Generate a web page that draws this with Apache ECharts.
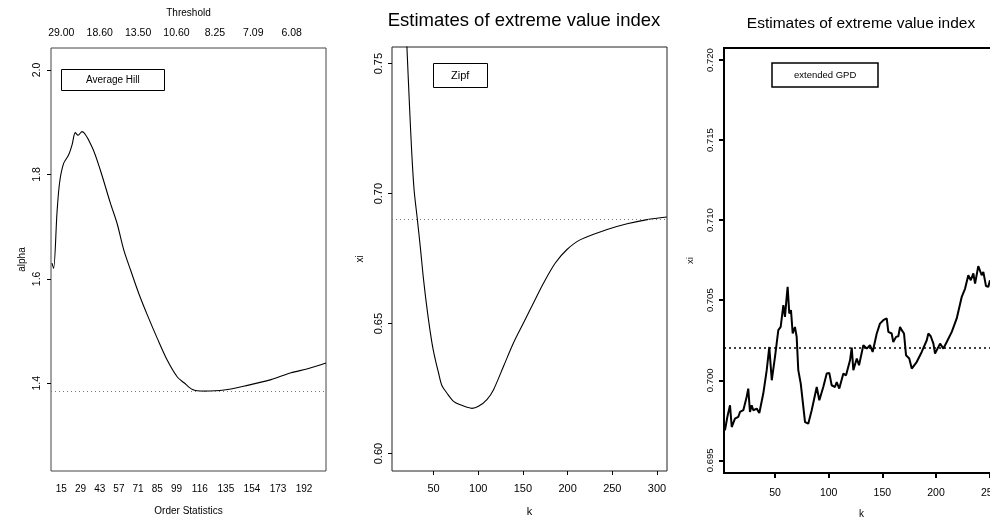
<!DOCTYPE html>
<html>
<head>
<meta charset="utf-8">
<script src="https://cdn.jsdelivr.net/npm/echarts@6/dist/echarts.min.js"></script>
<style>
html,body{margin:0;padding:0;background:#fff;}
#chart{width:990px;height:517px;}
</style>
</head>
<body>
<div id="chart"></div>
<script>
// ---- Panel 1: Average Hill ----
const hillK = [8.2, 9.4, 11.9, 13.8, 16.7, 20.3, 22.8, 25.2, 27.2, 30.1, 37.5, 43.5, 50.8, 55.7, 60.6, 65.5, 71.5, 77.7, 85, 92.3, 99.6, 104.5, 110.6, 119.1, 133.7, 150.8, 167.9, 182.5, 194.7, 208];
const hillAlpha = [1.630, 1.620, 1.728, 1.785, 1.821, 1.837, 1.856, 1.880, 1.875, 1.882, 1.852, 1.808, 1.745, 1.706, 1.655, 1.617, 1.572, 1.531, 1.486, 1.444, 1.412, 1.401, 1.388, 1.385, 1.387, 1.396, 1.407, 1.420, 1.428, 1.439];
const hillRef = 1.384;
const hillOrderTicks = [15, 29, 43, 57, 71, 85, 99, 116, 135, 154, 173, 192];
const hillThreshTickPos = [15, 43, 71, 99, 127, 155, 183];
const hillThreshLabels = ['29.00', '18.60', '13.50', '10.60', '8.25', '7.09', '6.08'];
const hillYTicks = [1.4, 1.6, 1.8, 2.0];

// ---- Panel 2: Zipf ----
const zipfK = [15, 20.2, 23.1, 25.6, 28.2, 31.9, 35.1, 38.8, 43.3, 48.2, 51.9, 55.6, 59.3, 64.9, 72.4, 79.8, 92.9, 100.3, 109.7, 117.1, 128.3, 139.5, 150.7, 161.9, 173.1, 186.2, 199.3, 214.4, 244.2, 266.6, 289, 311];
const zipfXi = [0.800, 0.7564, 0.7336, 0.7157, 0.7015, 0.690, 0.6797, 0.6669, 0.6541, 0.6426, 0.6362, 0.6310, 0.6262, 0.6233, 0.6201, 0.6188, 0.6174, 0.6182, 0.6208, 0.6246, 0.6336, 0.6426, 0.6503, 0.658, 0.6656, 0.6733, 0.6785, 0.6823, 0.6862, 0.6884, 0.690, 0.691];
const zipfRef = 0.690;
const zipfXTicks = [50, 100, 150, 200, 250, 300];
const zipfYTicks = [0.60, 0.65, 0.70, 0.75];

// ---- Panel 3: extended GPD ----
const gpdK = [3.4, 5.6, 8.1, 9.7, 12.7, 15.8, 17.4, 20.5, 23.6, 25.1, 26.7, 28.3, 29.8, 33, 35.4, 39.1, 42.3, 44.7, 47, 50, 53.1, 55.3, 57.8, 59.3, 60.9, 61.8, 63.3, 64.9, 66.5, 68.6, 70.2, 71.7, 74, 78, 81, 84.2, 88.9, 91.3, 95, 98.2, 100.6, 102.8, 105.9, 107.5, 109.9, 113.7, 116.2, 119.9, 121.5, 123, 126.2, 128.3, 132.3, 135.5, 138.5, 141, 144.8, 147.8, 150.9, 154.1, 155.6, 158.7, 160.2, 162.8, 164.9, 166.5, 168.1, 170.2, 172.1, 175.1, 177.4, 182, 186.7, 191.4, 192.9, 195.1, 197.6, 199.1, 203.8, 206.9, 210, 214.7, 219.3, 224, 227.1, 230.1, 232.4, 234.8, 236.4, 239.4, 242.6, 244.1, 246.6, 248.7, 250.3];
const gpdXi = [0.69688, 0.69771, 0.69844, 0.69708, 0.69761, 0.69771, 0.69802, 0.69813, 0.69896, 0.69948, 0.69802, 0.69844, 0.69813, 0.69823, 0.69796, 0.69917, 0.70063, 0.70208, 0.70000, 0.70146, 0.70313, 0.70333, 0.70469, 0.70396, 0.70521, 0.70583, 0.70417, 0.70438, 0.70292, 0.70333, 0.70271, 0.70063, 0.69979, 0.69739, 0.69729, 0.69813, 0.69958, 0.69875, 0.69958, 0.70042, 0.70046, 0.69969, 0.69958, 0.69989, 0.69948, 0.70042, 0.70031, 0.70125, 0.70204, 0.70063, 0.70136, 0.70094, 0.70219, 0.70198, 0.70219, 0.70177, 0.70292, 0.70354, 0.70375, 0.70386, 0.70302, 0.70292, 0.70239, 0.70271, 0.70275, 0.70333, 0.70313, 0.70292, 0.70156, 0.70136, 0.70073, 0.70114, 0.70177, 0.70250, 0.70292, 0.70275, 0.70229, 0.70167, 0.70229, 0.70198, 0.70239, 0.70302, 0.70386, 0.70521, 0.70573, 0.70656, 0.70625, 0.70667, 0.70604, 0.70713, 0.70656, 0.70677, 0.70588, 0.70583, 0.70625];
const gpdRef = 0.70204;
const gpdXTicks = [50, 100, 150, 200, 250];
const gpdYTicks = [0.695, 0.700, 0.705, 0.710, 0.715, 0.720];

const titleText = 'Estimates of extreme value index';
const FONT = 'Liberation Sans, Arial, sans-serif';

function zip(a, b) { return a.map((v, i) => [v, b[i]]); }

const chart = echarts.init(document.getElementById('chart'), null, {renderer: 'canvas'});

const txt = (size, extra) => Object.assign({color: '#000', fontSize: size, fontFamily: FONT, fontWeight: 'normal'}, extra || {});

const refLine = (value, color, dash, width) => ({
  silent: true, symbol: 'none', precision: 6, label: {show: false},
  lineStyle: {color: color, type: dash, width: width}, data: [{yAxis: value}]
});

const option = {
  animation: false,
  backgroundColor: '#fff',
  title: [
    {text: titleText, left: 524, top: 11, textAlign: 'center', padding: 0, textStyle: txt(18.5)},
    {text: titleText, left: 861, top: 16, textAlign: 'center', padding: 0, textStyle: txt(15.5)},
    {text: 'Average Hill', left: 61, top: 69, padding: [6, 25, 6, 25], borderColor: '#000', borderWidth: 1, textStyle: txt(10)},
    {text: 'Zipf', left: 433, top: 63, padding: [7, 18, 7, 18], borderColor: '#000', borderWidth: 1, textStyle: txt(11)},
    {text: 'extended GPD', left: 772, top: 63, padding: [7, 22, 7, 22], borderColor: '#000', borderWidth: 1.5, textStyle: txt(9.5)}
  ],
  grid: [
    {left: 51, top: 48, width: 275, height: 423, show: true, borderColor: '#444', borderWidth: 1, containLabel: false, outerBoundsMode: 'none'},
    {left: 392, top: 47, width: 275, height: 424, show: true, borderColor: '#222', borderWidth: 1, containLabel: false, outerBoundsMode: 'none'},
    {left: 724, top: 48, width: 275, height: 425, show: true, borderColor: '#000', borderWidth: 2, containLabel: false, outerBoundsMode: 'none'}
  ],
  xAxis: [
    {gridIndex: 0, type: 'value', min: 7.5, max: 208, position: 'bottom',
     name: 'Order Statistics', nameLocation: 'middle', nameGap: 35, nameTextStyle: txt(10),
     axisLine: {show: false}, splitLine: {show: false},
     axisTick: {show: false, customValues: hillOrderTicks},
     axisLabel: {customValues: hillOrderTicks, margin: 13, ...txt(10)}},
    {gridIndex: 0, type: 'value', min: 7.5, max: 208, position: 'top',
     name: 'Threshold', nameLocation: 'middle', nameGap: 30, nameTextStyle: txt(10),
     axisLine: {show: false}, splitLine: {show: false},
     axisTick: {show: false, customValues: hillThreshTickPos},
     axisLabel: {customValues: hillThreshTickPos, margin: 9, ...txt(10.5),
       formatter: v => hillThreshLabels[hillThreshTickPos.indexOf(v)]}},
    {gridIndex: 1, type: 'value', min: 3.5, max: 311.2,
     name: 'k', nameLocation: 'middle', nameGap: 35, nameTextStyle: txt(11),
     axisLine: {show: false}, splitLine: {show: false},
     axisTick: {show: true, length: 4, customValues: zipfXTicks, lineStyle: {color: '#000'}},
     axisLabel: {customValues: zipfXTicks, margin: 12, ...txt(11)}},
    {gridIndex: 2, type: 'value', min: 2.5, max: 258.7,
     name: 'k', nameLocation: 'middle', nameGap: 36, nameTextStyle: txt(10),
     axisLine: {show: false}, splitLine: {show: false},
     axisTick: {show: true, length: 5, customValues: gpdXTicks, lineStyle: {color: '#000', width: 2}},
     axisLabel: {customValues: gpdXTicks, margin: 15, ...txt(10.5)}}
  ],
  yAxis: [
    {gridIndex: 0, type: 'value', min: 1.232, max: 2.0421,
     name: 'alpha', nameLocation: 'middle', nameGap: 24, nameRotate: 90, nameTextStyle: txt(10),
     axisLine: {show: false}, splitLine: {show: false},
     axisTick: {show: true, length: 4, customValues: hillYTicks, lineStyle: {color: '#000'}},
     axisLabel: {customValues: hillYTicks, rotate: 90, margin: 8, ...txt(10.5), formatter: v => v.toFixed(1)}},
    {gridIndex: 1, type: 'value', min: 0.5933, max: 0.7564,
     name: 'xi', nameLocation: 'middle', nameGap: 27, nameRotate: 90, nameTextStyle: txt(10),
     axisLine: {show: false}, splitLine: {show: false},
     axisTick: {show: true, length: 4, customValues: zipfYTicks, lineStyle: {color: '#000'}},
     axisLabel: {customValues: zipfYTicks, rotate: 90, margin: 8, ...txt(11), formatter: v => v.toFixed(2)}},
    {gridIndex: 2, type: 'value', min: 0.69421, max: 0.72075,
     name: 'xi', nameLocation: 'middle', nameGap: 29, nameRotate: 90, nameTextStyle: txt(9.5),
     axisLine: {show: false}, splitLine: {show: false},
     axisTick: {show: true, length: 5, customValues: gpdYTicks, lineStyle: {color: '#000', width: 2}},
     axisLabel: {customValues: gpdYTicks, rotate: 90, margin: 9, ...txt(9.5), formatter: v => v.toFixed(3)}}
  ],
  series: [
    {type: 'line', xAxisIndex: 0, yAxisIndex: 0, data: zip(hillK, hillAlpha), showSymbol: false, smooth: 0.3,
     lineStyle: {color: '#000', width: 1.1}, clip: true,
     markLine: refLine(hillRef, '#777', [1, 3], 1)},
    {type: 'line', xAxisIndex: 2, yAxisIndex: 1, data: zip(zipfK, zipfXi), showSymbol: false, smooth: 0.3,
     lineStyle: {color: '#000', width: 1.1}, clip: true,
     markLine: refLine(zipfRef, '#777', [1, 3], 1)},
    {type: 'line', xAxisIndex: 3, yAxisIndex: 2, data: zip(gpdK, gpdXi), showSymbol: false,
     lineStyle: {color: '#000', width: 2}, clip: true,
     markLine: refLine(gpdRef, '#000', [2, 3], 1.5)}
  ]
};
chart.setOption(option);
</script>
</body>
</html>
